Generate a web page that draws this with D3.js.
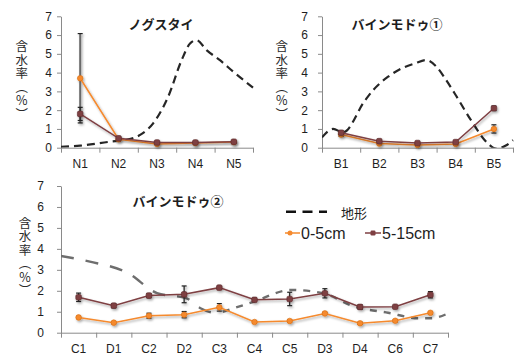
<!DOCTYPE html>
<html>
<head>
<meta charset="utf-8">
<script src="https://cdn.jsdelivr.net/npm/d3@7"></script>
<style>
  body { margin: 0; background: #fff; }
  svg { display: block; font-family: "Liberation Sans", Arial, sans-serif; }
</style>
</head>
<body>
<svg id="chart" width="514" height="358"></svg>
<script>
"use strict";

// Categories
const catsN = ["N1", "N2", "N3", "N4", "N5"];
const catsB = ["B1", "B2", "B3", "B4", "B5"];
const catsC = ["C1", "D1", "C2", "D2", "C3", "C4", "C5", "D3", "D4", "C6", "C7"];
const yTicks = [0, 1, 2, 3, 4, 5, 6, 7];

// ノグスタイ
const shallowN = [3.7, 0.45, 0.2, 0.25, 0.3];
const shallowNErr = [2.38, 0.05, 0.03, 0.03, 0.05];
const deepN = [1.8, 0.5, 0.28, 0.28, 0.32];
const deepNErr = [0.35, 0.05, 0.03, 0.03, 0.05];
// terrain profile: [position along axis in category units, value]
const terrainN = [[0, 0.05], [0.5, 0.11], [1.28, 0.32], [1.67, 0.41], [2.06, 0.68], [2.4, 1.3], [2.79, 2.71],
    [3.14, 4.66], [3.36, 5.55], [3.53, 5.73], [3.79, 5.2], [4.14, 4.66], [4.49, 4.04], [5, 3.2]];

// バインモドゥ①
const shallowB = [0.7, 0.22, 0.15, 0.2, 1.0];
const shallowBErr = [0.1, 0.05, 0.05, 0.05, 0.22];
const deepB = [0.8, 0.35, 0.25, 0.3, 2.1];
const deepBErr = [0.1, 0.05, 0.05, 0.05, 0.12];
const terrainB = [[0, 0.55], [0.29, 1.0], [0.55, 0.82], [1.12, 2.5], [1.34, 3.07], [1.73, 3.78], [2.08, 4.22],
    [2.43, 4.49], [2.73, 4.67], [3.0, 4.31], [3.25, 3.6], [3.47, 2.9], [3.9, 1.47], [4.34, 0.23],
    [4.55, -0.05], [4.8, 0.1], [5, 0.4]];

// バインモドゥ②
const shallowC = [0.73, 0.48, 0.81, 0.86, 1.21, 0.51, 0.56, 0.92, 0.45, 0.57, 0.95];
const shallowCErr = [0.05, 0.05, 0.12, 0.15, 0.18, 0.05, 0.05, 0.05, 0.05, 0.05, 0.05];
const deepC = [1.69, 1.29, 1.77, 1.83, 2.15, 1.57, 1.61, 1.88, 1.23, 1.24, 1.81];
const deepCErr = [0.2, 0.1, 0.1, 0.4, 0.05, 0.08, 0.32, 0.22, 0.1, 0.05, 0.15];
const terrainC = [[0, 3.66], [0.82, 3.39], [1.9, 2.85], [2.73, 1.89], [3.57, 1.64], [3.95, 1.18], [4.43, 0.94],
    [4.6, 1.0], [5.45, 1.46], [6.55, 2.04], [7.45, 1.88], [8.35, 1.24], [9.3, 0.95], [10.15, 0.69],
    [10.53, 0.69], [11, 0.92]];

// Colours
const orange = "#f58a2e";
const brown = "#7e3f42";
const axisColor = "#8a8a8a";
const textColor = "#1e1e1e";

const svg = d3.select("#chart");

// soft shadow like the original
const defs = svg.append("defs");
defs.append("filter").attr("id", "shadow")
    .attr("x", "-20%").attr("y", "-20%").attr("width", "140%").attr("height", "160%")
    .append("feDropShadow")
    .attr("dx", 1.2).attr("dy", 1.6).attr("stdDeviation", 1)
    .attr("flood-color", "#000").attr("flood-opacity", 0.35);

const panels = [
    { id: "n", title: "ノグスタイ", titleX: 161, titleY: 23, left: 61, right: 253, top: 16.3, bottom: 147.7,
      cats: catsN, shallow: shallowN, shallowErr: shallowNErr, deep: deepN, deepErr: deepNErr,
      terrain: terrainN, split: null, tickPad: 5, labelX: 21.7, labelTop: 40 },
    { id: "b", title: "バインモドゥ①", titleX: 397, titleY: 23, left: 322, right: 513, top: 16.3, bottom: 147.7,
      cats: catsB, shallow: shallowB, shallowErr: shallowBErr, deep: deepB, deepErr: deepBErr,
      terrain: terrainB, split: null, tickPad: 10, labelX: 281.7, labelTop: 40 },
    { id: "c", title: "バインモドゥ②", titleX: 178, titleY: 200, left: 61, right: 448, top: 186, bottom: 332.7,
      cats: catsC, shallow: shallowC, shallowErr: shallowCErr, deep: deepC, deepErr: deepCErr,
      terrain: terrainC, split: 7, tickPad: 13, labelX: 25, labelTop: 216.5 }
];

panels.forEach(drawPanel);
drawLegend();


function drawPanel(p) {
    const g = svg.append("g");
    const n = p.cats.length;

    const y = d3.scaleLinear().domain([0, 7]).range([p.bottom, p.top]);
    const xPos = d3.scaleLinear().domain([0, n]).range([p.left, p.right]);
    const xBand = d3.scaleBand().domain(p.cats).range([p.left, p.right]);

    g.append("clipPath").attr("id", "clip-" + p.id)
        .append("rect")
        .attr("x", p.left).attr("y", p.top - 5)
        .attr("width", p.right - p.left + 3).attr("height", p.bottom - p.top + 5);

    // y axis
    const yAxis = g.append("g")
        .attr("transform", `translate(${p.left},0)`)
        .call(d3.axisLeft(y).tickValues(yTicks).tickFormat(d3.format("d"))
            .tickSize(4).tickSizeOuter(0).tickPadding(p.tickPad));
    // x axis: tick marks at category borders, labels in the middle
    const xTickAxis = g.append("g")
        .attr("transform", `translate(0,${p.bottom})`)
        .call(d3.axisBottom(xPos).tickValues(d3.range(n + 1)).tickFormat("").tickSize(5).tickSizeOuter(0));
    const xLabelAxis = g.append("g")
        .attr("transform", `translate(0,${p.bottom})`)
        .call(d3.axisBottom(xBand).tickSize(0).tickPadding(12));
    xLabelAxis.select(".domain").remove();

    [yAxis, xTickAxis, xLabelAxis].forEach(a => {
        a.selectAll(".domain, line").attr("stroke", axisColor);
        a.selectAll("text").attr("fill", textColor).style("font-size", "12px")
            .style("font-family", "'Liberation Sans', Arial, sans-serif");
    });

    // title
    g.append("text")
        .attr("x", p.titleX).attr("y", p.titleY)
        .attr("text-anchor", "middle").attr("dominant-baseline", "central")
        .style("font-family", "'Noto Sans CJK JP', sans-serif")
        .style("font-size", "13px").style("font-weight", "bold")
        .attr("fill", textColor)
        .text(p.title);

    // y axis label, vertical Japanese text
    g.append("text")
        .attr("x", p.labelX).attr("y", p.labelTop)
        .style("writing-mode", "vertical-rl")
        .style("text-orientation", "upright")
        .style("font-family", "'Noto Sans CJK JP', sans-serif")
        .style("font-size", "12.5px")
        .style("letter-spacing", "1px")
        .attr("fill", "#2a2a2a")
        .text("含水率（%）");

    // terrain line
    const terrainLine = d3.line()
        .x(d => xPos(d[0]))
        .y(d => y(d[1]))
        .curve(d3.curveMonotoneX);
    const tg = g.append("g").attr("clip-path", `url(#clip-${p.id})`);
    if (p.split === null) {
        tg.append("path")
            .attr("d", terrainLine(p.terrain))
            .attr("fill", "none").attr("stroke", "#262626")
            .attr("stroke-width", 2.2).attr("stroke-dasharray", "8,5");
    } else {
        tg.append("path")
            .attr("d", terrainLine(p.terrain.slice(0, p.split + 1)))
            .attr("fill", "none").attr("stroke", "#6e6e6e")
            .attr("stroke-width", 2.4).attr("stroke-dasharray", "13,12");
        tg.append("path")
            .attr("d", terrainLine(p.terrain.slice(p.split)))
            .attr("fill", "none").attr("stroke", "#6e6e6e")
            .attr("stroke-width", 2.4).attr("stroke-dasharray", "7,7");
    }

    // series
    const series = [
        { vals: p.shallow, errs: p.shallowErr, color: orange, errColor: "#6a6a6a", shape: "circle" },
        { vals: p.deep, errs: p.deepErr, color: brown, errColor: "#2a2a2a", shape: "square" }
    ];
    const cx = c => xBand(c) + xBand.bandwidth() / 2;
    const seriesLine = d3.line().x((d, i) => cx(p.cats[i])).y(d => y(d));

    series.forEach(s => {
        const sg = g.append("g").attr("filter", "url(#shadow)");
        // error bars
        const eb = sg.selectAll(".err").data(s.vals).join("g");
        eb.append("line")
            .attr("x1", (d, i) => cx(p.cats[i])).attr("x2", (d, i) => cx(p.cats[i]))
            .attr("y1", (d, i) => y(d - s.errs[i])).attr("y2", (d, i) => y(d + s.errs[i]))
            .attr("stroke", s.errColor).attr("stroke-width", s.errs[0] > 1 ? 2 : 1.3);
        [-1, 1].forEach(sign => {
            eb.append("line")
                .attr("x1", (d, i) => cx(p.cats[i]) - 2.5).attr("x2", (d, i) => cx(p.cats[i]) + 2.5)
                .attr("y1", (d, i) => y(d + sign * s.errs[i])).attr("y2", (d, i) => y(d + sign * s.errs[i]))
                .attr("stroke", "#222").attr("stroke-width", 1.2);
        });
        sg.append("path")
            .attr("d", seriesLine(s.vals))
            .attr("fill", "none").attr("stroke", s.color).attr("stroke-width", 1.5);
        if (s.shape === "circle") {
            sg.selectAll(".mk").data(s.vals).join("circle")
                .attr("cx", (d, i) => cx(p.cats[i])).attr("cy", d => y(d))
                .attr("r", 2.8).attr("fill", s.color).attr("stroke", "#d86e12").attr("stroke-width", 0.6);
        } else {
            sg.selectAll(".mk").data(s.vals).join("rect")
                .attr("x", (d, i) => cx(p.cats[i]) - 2.8).attr("y", d => y(d) - 2.8)
                .attr("width", 5.6).attr("height", 5.6).attr("rx", 1.5)
                .attr("fill", s.color).attr("stroke", "#5a2a2c").attr("stroke-width", 0.6);
        }
    });
}


function drawLegend() {
    const lg = svg.append("g");
    lg.append("line")
        .attr("x1", 286).attr("x2", 327).attr("y1", 211.7).attr("y2", 211.7)
        .attr("stroke", "#111").attr("stroke-width", 2.6).attr("stroke-dasharray", "10,6.5");
    lg.append("text")
        .attr("x", 341).attr("y", 212).attr("dominant-baseline", "central")
        .style("font-family", "'Noto Sans CJK JP', sans-serif").style("font-size", "13px")
        .attr("fill", textColor).text("地形");

    const items = [
        { label: "0-5cm", color: orange, x0: 285, x1: 300, mx: 290, tx: 301, shape: "circle" },
        { label: "5-15cm", color: brown, x0: 365, x1: 381, mx: 373, tx: 382, shape: "square" }
    ];
    items.forEach(it => {
        lg.append("line")
            .attr("x1", it.x0).attr("x2", it.x1).attr("y1", 233).attr("y2", 233)
            .attr("stroke", it.color).attr("stroke-width", 1.5);
        if (it.shape === "circle") {
            lg.append("circle").attr("cx", it.mx).attr("cy", 233).attr("r", 2.5).attr("fill", it.color);
        } else {
            lg.append("rect").attr("x", it.mx - 2.5).attr("y", 230.5).attr("width", 5).attr("height", 5)
                .attr("rx", 1.2).attr("fill", it.color);
        }
        lg.append("text")
            .attr("x", it.tx).attr("y", 233).attr("dominant-baseline", "central")
            .style("font-size", "16px").attr("fill", textColor).text(it.label);
    });
}
</script>
</body>
</html>
